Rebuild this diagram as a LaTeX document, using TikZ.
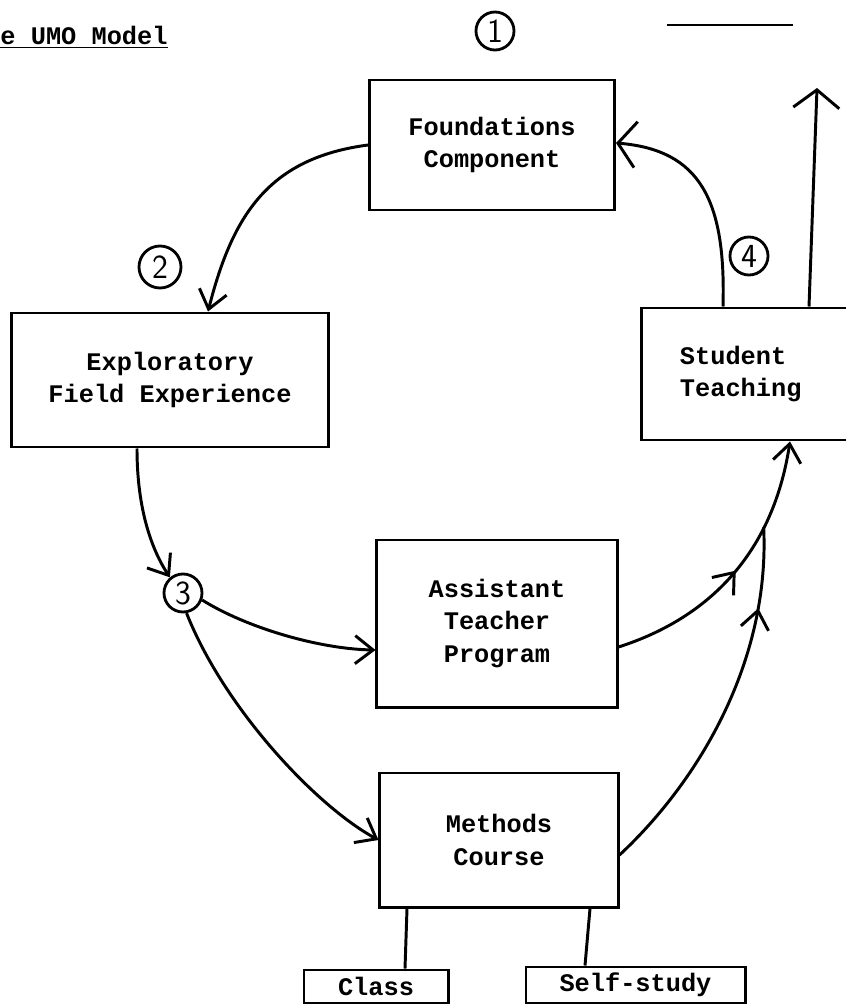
\documentclass[tikz,border=0pt]{standalone}
\usepackage{fontspec}
\setmonofont{Liberation Mono}
\usetikzlibrary{arrows.meta,decorations.markings}

\begin{document}
\begin{tikzpicture}[x=0.025cm,y=-0.025cm,line width=2.1pt,
    >={Straight Barb[length=4.5mm,width=7mm]},
    box/.style={draw,rectangle,inner sep=0pt,align=center,
      font=\ttfamily\bfseries\fontsize{18}{23}\selectfont},
    tag/.style={draw,circle,minimum size=0.95cm,inner sep=0pt,line width=2pt,
      font=\sffamily\fontsize{24}{24}\selectfont},
    widebarb/.style={-{Straight Barb[length=4.5mm,width=11.5mm]}},
    midarrow/.style={postaction={decorate},decoration={markings,
      mark=at position #1 with {\arrow{>}}}}]
      \useasboundingbox (0,0) rectangle (846,1005);
      \clip (0,0) rectangle (846,1005);

      \node[anchor=base west,inner sep=0pt,
        font=\ttfamily\bfseries\fontsize{18}{23}\selectfont] (title) at (-1,45)
        {\underline{e UMO Model}};
      \draw[line width=1pt] (667,25) -- (793,25);

      %%%%%%%%%%%%%%%%%%%%%%%%%%%%%%%%%%%%%%%%%%%%%%%%%%%%%%%%%%%%%%%%%%%%%%%%%%%
      %%%%  Components
      \node[box,minimum width=6.125cm,minimum height=3.25cm] (found) at (492,145)
        {Foundations\\Component};
      \node[box,minimum width=7.9cm,minimum height=3.35cm] (expl) at (170,380)
        {Exploratory\\Field Experience};
      \node[box,minimum width=6.5cm,minimum height=3.3cm,text width=4.6cm,
        align=left,inner xsep=0.95cm] (student) at (772,374) {Student\\Teaching};
      \node[box,minimum width=6cm,minimum height=4.175cm] (assist) at (497,623.5)
        {Assistant\\Teacher\\Program};
      \node[box,minimum width=5.95cm,minimum height=3.35cm] (methods) at (499,840)
        {Methods\\Course};
      \node[box,minimum width=3.6cm,minimum height=0.825cm] (class) at (376,986.5) {Class};
      \node[box,minimum width=5.475cm,minimum height=0.9cm] (self) at (635.5,985) {Self-study};

      \node[tag] (n1) at (495,31) {1};
      \node[tag,minimum size=1.05cm] (n2) at (160,267) {2};
      \node[tag] (n3) at (183,593) {3};
      \node[tag] (n4) at (749,256) {4};

      \coordinate (out) at (817,88);

      %%%%%%%%%%%%%%%%%%%%%%%%%%%%%%%%%%%%%%%%%%%%%%%%%%%%%%%%%%%%%%%%%%%%%%%%%%%
      %%%%  Cycle
      \draw[->] (found.west) .. controls (270,158) and (233,213) .. ([xshift=0.95cm]expl.north);
      \draw[->] ([xshift=-0.825cm]expl.south) .. controls (137,510) and (152,550) .. (n3.130);
      \draw[->] (n3.-20) .. controls (245,627) and (318,649) .. (assist.west |- 0,650);
      \draw[->] (n3.-80) .. controls (224,708) and (316,806) .. (methods.west |- 0,840);

      \draw[->,midarrow=0.5] (assist.east |- 0,647) .. controls (703,620) and (772,559)
        .. coordinate[pos=0.72] (merge) (student.south -| 790,0);
      \draw[midarrow=0.78] (methods.east |- 0,855) .. controls (700,780) and (770,660) .. (merge);

      \draw[widebarb] (student.north -| 723,0) .. controls (726,200) and (700,150)
        .. (found.east |- 0,143);
      \draw[widebarb] (student.north -| 809,0) -- (out);

      % Methods course split
      \draw (methods.south -| 407,0) -- (class.north -| 405,0);
      \draw (methods.south -| 590,0) -- (self.north -| 585,0);
    \end{tikzpicture}
\end{document}
